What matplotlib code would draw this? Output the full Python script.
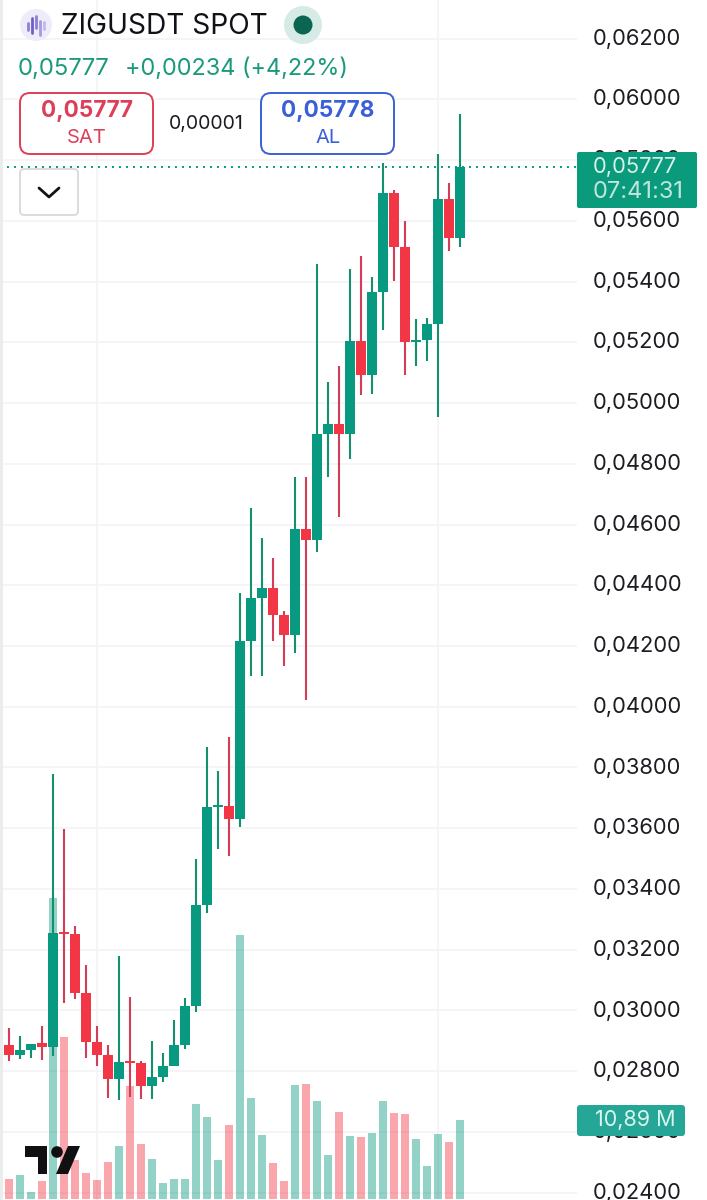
import matplotlib
matplotlib.use("Agg")
import matplotlib.pyplot as plt
from matplotlib.patches import Circle, FancyBboxPatch, Polygon, Rectangle
from matplotlib.transforms import ScaledTranslation

plt.rcParams['font.family'] = ['Inter', 'DejaVu Sans']

# daily candles, oldest first
opens = [.02885, .02852, .02869, .02892, .02881, .03258, .03252, .03059, .02897, .02852,
         .02773, .02833, .02828, .02752, .02782, .02818, .02886, .03014, .03348, .03670,
         .03672, .03630, .04217, .04359, .04390, .04302, .04236, .04584, .04548, .04897,
         .04931, .04899, .05203, .05092, .05366, .05690, .05513, .05201, .05208, .05259,
         .05671, .05543]
highs = [.02943, .02916, .02891, .02948, .03778, .03598, .03279, .03151, .02948, .02886,
         .03180, .03045, .02835, .02899, .02861, .02968, .03042, .03500, .03867, .03790,
         .03899, .04376, .04653, .04557, .04490, .04316, .04757, .04757, .05459, .05070,
         .05121, .05440, .05485, .05415, .05789, .05701, .05600, .05277, .05279, .05819,
         .05724, .05950]
lows = [.02834, .02840, .02845, .02838, .02851, .03026, .03039, .02843, .02818, .02713,
        .02704, .02716, .02709, .02710, .02766, .02818, .02874, .02996, .03322, .03531,
        .03509, .03605, .04101, .04101, .04218, .04135, .04178, .04022, .04508, .04755,
        .04626, .04815, .05027, .05031, .05240, .05402, .05093, .05122, .05138, .04953,
        .05500, .05513]
closes = [.02852, .02869, .02891, .02880, .03256, .03253, .03059, .02897, .02852, .02773,
          .02830, .02828, .02752, .02782, .02818, .02886, .03014, .03348, .03669, .03676,
          .03630, .04217, .04359, .04390, .04302, .04236, .04584, .04548, .04897, .04931,
          .04897, .05203, .05092, .05366, .05690, .05513, .05201, .05208, .05259, .05671,
          .05544, .05777]
# volume in millions
volumes = [2.71, 3.31, 1.01, 2.48, 41.52, 22.28, 5.37, 3.62, 2.58, 5.14,
           7.34, 15.57, 7.58, 5.51, 2.20, 2.80, 2.80, 13.09, 11.30, 5.37,
           10.24, 36.42, 13.85, 8.82, 5.00, 2.48, 15.71, 15.85, 13.50, 6.06,
           11.95, 8.68, 8.54, 9.14, 13.50, 11.81, 11.67, 8.23, 4.55, 8.96,
           7.85, 10.89]
# vertical time separators
time_grid = [8, 39]
price_ticks = [.024 + .002 * i for i in range(20)]
price_labels = ["0,%05d" % round(p * 100000) for p in price_ticks]
last_price = closes[-1]

GREEN = "#089981"
RED = "#f23645"
RED_WICK = "#d23e58"
GRID = "#f3f3f5"
W, H = 707, 1200
CHART_W = 577

fig = plt.figure(figsize=(W / 100, H / 100), dpi=100, facecolor="white")
pos = [0, 0, CHART_W / W, 1]
ax_grid = fig.add_axes(pos, zorder=1)
ax_vol = fig.add_axes(pos, zorder=2, facecolor="none")
ax = fig.add_axes(pos, zorder=3, facecolor="none")
ui = fig.add_axes([0, 0, 1, 1], zorder=4, facecolor="none")

x_range = (-9 / 11, (CHART_W - 9) / 11)
y_range = (0.023761, 0.063268)

# grid and the price scale
ax_grid.set_xlim(*x_range)
ax_grid.set_ylim(*y_range)
ax_grid.set_xticks(time_grid)
ax_grid.set_yticks(price_ticks)
ax_grid.set_yticklabels(price_labels)
ax_grid.grid(True, color=GRID, lw=1.1)
ax_grid.tick_params(axis="x", length=0, labelbottom=False)
ax_grid.tick_params(axis="y", length=0, labelleft=False, labelright=True, pad=11.5,
                    labelsize=15.8, labelcolor="#1c1d22")
# labels sit a touch above their grid line
nudge = ScaledTranslation(0, 1.8 / 100, fig.dpi_scale_trans)
for lab in ax_grid.get_yticklabels():
    lab.set_transform(lab.get_transform() + nudge)
for s in ax_grid.spines.values():
    s.set_visible(False)

idx = list(range(len(closes)))
up = [c >= o for o, c in zip(opens, closes)]

# volume bars along the bottom
ax_vol.bar(idx, volumes, width=0.8, color=[GREEN if u else RED for u in up], alpha=0.44, lw=0)
ax_vol.set_xlim(*x_range)
ax_vol.set_ylim(-0.138, 165.2)
ax_vol.axis("off")

# candles
ax.vlines(idx, lows, highs, colors=["#14906f" if u else RED_WICK for u in up], lw=1.5, zorder=2)
ax.bar(idx, [abs(c - o) for o, c in zip(opens, closes)], bottom=[min(o, c) for o, c in zip(opens, closes)],
       width=0.82, color=[GREEN if u else RED for u in up], lw=0, zorder=3)
ax.axhline(last_price, color=GREEN, lw=1.4, ls=(0, (1, 2.6)), zorder=1)
ax.set_xlim(*x_range)
ax.set_ylim(*y_range)
ax.axis("off")

# header widgets and overlays, laid out in pixels
ui.set_xlim(0, W)
ui.set_ylim(H, 0)
ui.axis("off")

ui.add_patch(Rectangle((0, 0), 3, H, color="#ececec", lw=0))

# symbol icon
ui.add_patch(Circle((36, 25), 16, color="#eeecf8", lw=0))
for bx, by0, by1, bc in [(28, 23, 30, "#8f7fd6"), (32, 18, 33, "#6f5fc8"), (36, 16, 28, "#8f7fd6"),
                         (40, 21, 35, "#a79be0"), (44, 22, 29, "#c2b9ec")]:
    ui.plot([bx, bx], [by0, by1], color=bc, lw=2, solid_capstyle="round")
ui.text(61, 26, "ZIGUSDT SPOT", fontsize=20.2, color="#111217", va="center", ha="left")

# market status dot
ui.add_patch(Circle((303, 25), 19, color="#d6ebe6", lw=0))
ui.add_patch(Circle((303, 25), 9.5, color="#0a6650", lw=0))

ui.text(18, 69, "0,05777", fontsize=17.2, color="#1a9a7b", va="center", ha="left")
ui.text(125, 69, "+0,00234 (+4,22%)", fontsize=16.9, color="#1a9a7b", va="center", ha="left")

# sell / buy buttons
for x0, c, price, side in [(20, "#dd3f58", "0,05777", "SAT"), (261, "#3a5fd8", "0,05778", "AL")]:
    ui.add_patch(FancyBboxPatch((x0 + 10, 103), 113, 41, boxstyle="round,pad=10", fc="white", ec=c, lw=1.4))
    ui.text(x0 + 67, 111, price, fontsize=16.3, fontweight="bold", color=c, va="center", ha="center")
    ui.text(x0 + 67, 138, side, fontsize=14.5, color=c, va="center", ha="center")
ui.text(206, 124, "0,00001", fontsize=14, color="#1c1d22", va="center", ha="center")

# collapse button
ui.add_patch(FancyBboxPatch((24, 173), 50, 38, boxstyle="round,pad=4", fc="white", ec="#dcdcdc", lw=1.4))
ui.plot([39, 49, 59], [188, 197, 188], color="#131418", lw=2, solid_capstyle="round", solid_joinstyle="round")

# last price tag
ui.add_patch(FancyBboxPatch((577, 152), 120, 56, boxstyle="round,pad=0,rounding_size=2", fc="#0a9a7c", ec="none"))
ui.text(593, 167, "0,05777", fontsize=15.8, color="#d8f1eb", va="center", ha="left")
ui.text(593, 192, "07:41:31", fontsize=17, color="#bfe6dc", va="center", ha="left")

# volume tag
ui.add_patch(FancyBboxPatch((577, 1105), 108, 31, boxstyle="round,pad=0,rounding_size=3", fc="#26a696", ec="none"))
ui.text(635, 1120, "10,89 M", fontsize=15.5, color="#d8f6f0", va="center", ha="center")

# TradingView mark
LOGO = "#101012"
ui.add_patch(Polygon([(25, 1146), (47, 1146), (47, 1174), (38, 1174), (38, 1157), (25, 1157)], color=LOGO, lw=0))
ui.add_patch(Circle((57, 1152), 5.8, color=LOGO, lw=0))
ui.add_patch(Polygon([(68, 1146), (80, 1146), (68, 1174), (56, 1174)], color=LOGO, lw=0))

fig.savefig("out.png", dpi=100)
